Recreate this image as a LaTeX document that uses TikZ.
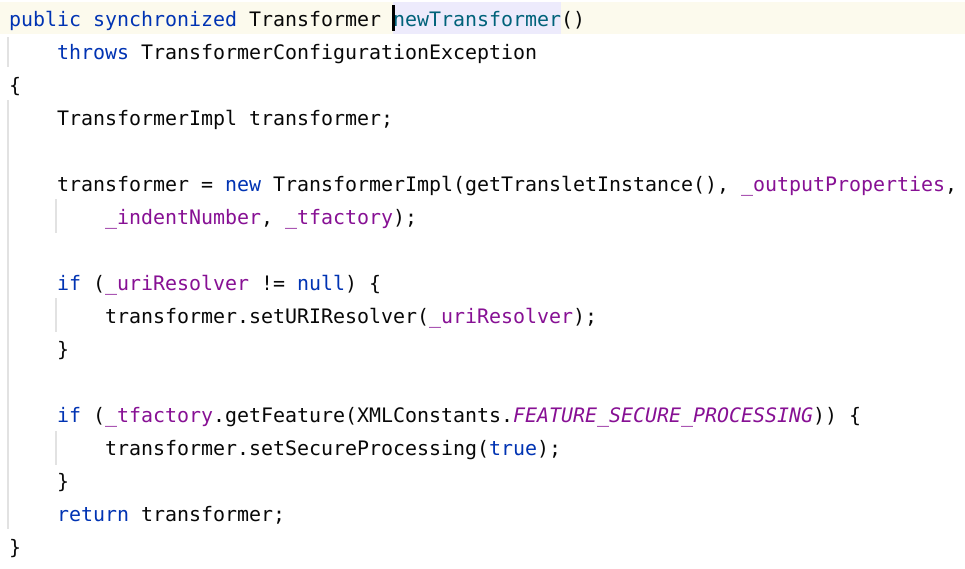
\documentclass[tikz,border=0pt]{standalone}
\usepackage{fontspec}
\newfontfamily\codefont{DejaVu Sans Mono}
\usetikzlibrary{backgrounds}
\pgfdeclarelayer{edgelayer}
\pgfdeclarelayer{nodelayer}
\pgfsetlayers{edgelayer,nodelayer,main}
\definecolor{kwblue}{HTML}{0033B3}
\definecolor{fldpurple}{HTML}{871094}
\definecolor{mthteal}{HTML}{00627A}
\definecolor{plaintext}{HTML}{080808}
\definecolor{curline}{HTML}{FCFAED}
\definecolor{caretword}{HTML}{EDEBFC}
\definecolor{guidegray}{HTML}{E2E2E2}
\newcommand{\kw}[1]{\textcolor{kwblue}{#1}}
\newcommand{\fld}[1]{\textcolor{fldpurple}{#1}}
\newcommand{\sfld}[1]{\textcolor{fldpurple}{\itshape #1}}
\newcommand{\mth}[1]{\textcolor{mthteal}{#1}}
\tikzstyle{code}=[anchor=base west,inner sep=0pt,text=plaintext,font=\codefont\fontsize{19.93}{33}\selectfont]
\tikzstyle{guide}=[draw=guidegray,line width=2pt]

\begin{document}
\begin{tikzpicture}[x=1pt,y=-1pt]
	\useasboundingbox (0,0) rectangle (965,568);
	\begin{pgfonlayer}{edgelayer}
		\fill[white] (0,0) rectangle (965,568);
		\fill[curline] (0,2) rectangle (965,34);
		\fill[caretword] (393,2) rectangle (561,34);
		\coordinate (g0a) at (8,37);
		\coordinate (g0b) at (8,67);
		\coordinate (g1a) at (8,100);
		\coordinate (g1b) at (8,529);
		\coordinate (g2a) at (56,199);
		\coordinate (g2b) at (56,233);
		\coordinate (g3a) at (56,298);
		\coordinate (g3b) at (56,332);
		\coordinate (g4a) at (56,431);
		\coordinate (g4b) at (56,465);
		\draw[guide] (g0a) to (g0b);
		\draw[guide] (g1a) to (g1b);
		\draw[guide] (g2a) to (g2b);
		\draw[guide] (g3a) to (g3b);
		\draw[guide] (g4a) to (g4b);
	\end{pgfonlayer}
	\begin{pgfonlayer}{nodelayer}
		\node [style=code] (l0) at (9, 26) {\kw{public} \kw{synchronized} Transformer \mth{newTransformer}()};
		\node [style=code] (l1) at (57, 59) {\kw{throws} TransformerConfigurationException};
		\node [style=code] (l2) at (9, 92) {\{};
		\node [style=code] (l3) at (57, 125) {TransformerImpl transformer;};
		\node [style=code] (l5) at (57, 191) {transformer = \kw{new} TransformerImpl(getTransletInstance(), \fld{\_outputProperties},};
		\node [style=code] (l6) at (105, 224) {\fld{\_indentNumber}, \fld{\_tfactory});};
		\node [style=code] (l8) at (57, 290) {\kw{if} (\fld{\_uriResolver} != \kw{null}) \{};
		\node [style=code] (l9) at (105, 323) {transformer.setURIResolver(\fld{\_uriResolver});};
		\node [style=code] (l10) at (57, 356) {\}};
		\node [style=code] (l12) at (57, 422) {\kw{if} (\fld{\_tfactory}.getFeature(XMLConstants.\sfld{FEATURE\_SECURE\_PROCESSING})) \{};
		\node [style=code] (l13) at (105, 455) {transformer.setSecureProcessing(\kw{true});};
		\node [style=code] (l14) at (57, 488) {\}};
		\node [style=code] (l15) at (57, 521) {\kw{return} transformer;};
		\node [style=code] (l16) at (9, 554) {\}};
	\end{pgfonlayer}
	\fill[black] (392,5) rectangle (395,31);
\end{tikzpicture}
\end{document}
